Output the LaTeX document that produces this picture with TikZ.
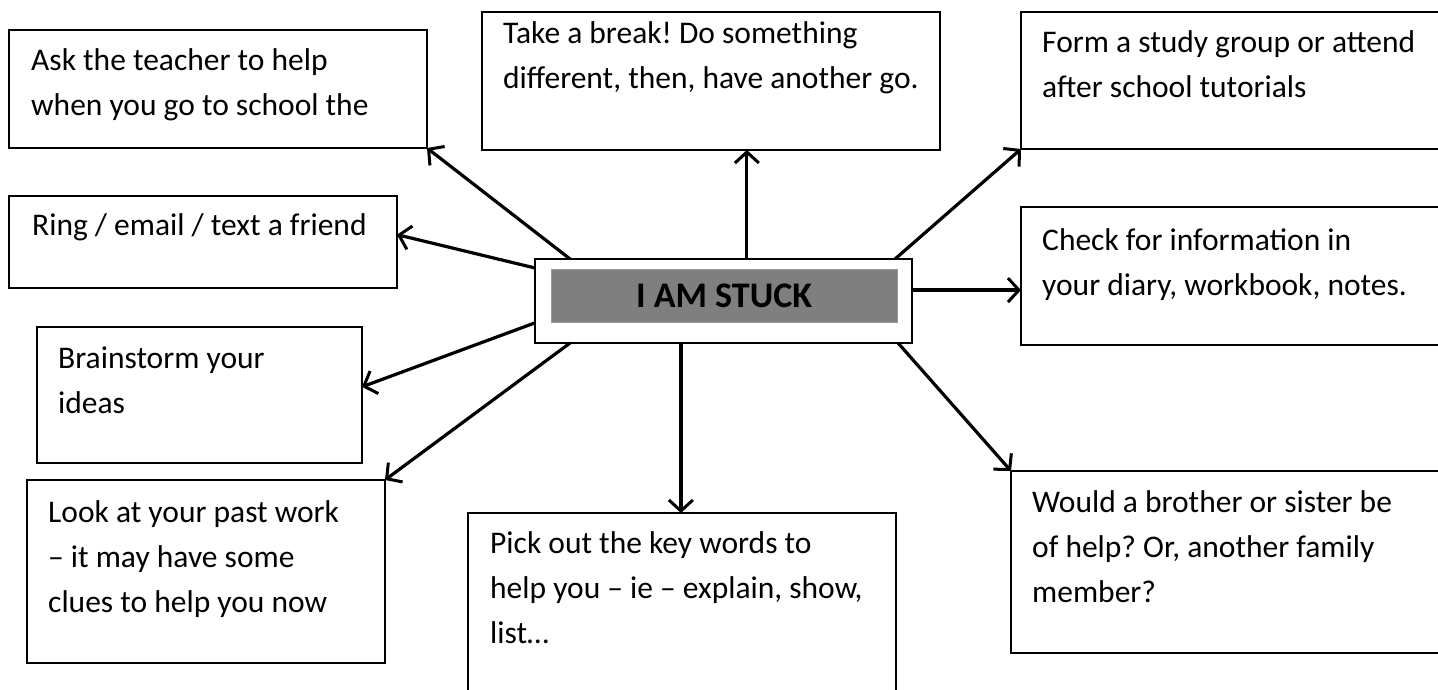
\documentclass[tikz,border=0pt]{standalone}
\usepackage{fontspec}
\setmainfont{Carlito}
\usetikzlibrary{arrows.meta,calc}
\definecolor{stuckgray}{HTML}{7F7F7F}
\definecolor{stuckedge}{HTML}{9A9A9A}
\begin{document}
\frenchspacing
\begin{tikzpicture}[x=1pt,y=-1pt,
  box/.style={draw=black,line width=1.6pt,inner sep=0pt,outer sep=0pt,anchor=north west},
  txt/.style={font=\fontsize{31.5}{45}\selectfont,text width=440pt,inner sep=0pt,anchor=base west,
    execute at begin node={\spaceskip=7.1pt\xspaceskip=7.1pt\relax}},
  arr/.style={line width=3.2pt,-{Straight Barb[length=11pt,width=24pt,line width=3pt]}}]
\useasboundingbox (0,0) rectangle (1438,690);
% boxes
\node[box,minimum width=418,minimum height=118] (ask) at (9,30) {};
\node[box,minimum width=388,minimum height=92] (ring) at (9,196) {};
\node[box,minimum width=458,minimum height=138] (brk) at (482,12) {};
\node[box,minimum width=430,minimum height=137] (form) at (1021,12) {};
\node[box,minimum width=430,minimum height=138] (check) at (1021,207) {};
\node[box,minimum width=325,minimum height=136] (brain) at (37,327) {};
\node[box,minimum width=358,minimum height=183] (look) at (27,480) {};
\node[box,minimum width=428,minimum height=200] (pick) at (468,513) {};
\node[box,minimum width=440,minimum height=182] (would) at (1011,471) {};
% texts
\node[txt] (askt) at ($(ask.north west)+(22,41)$) {Ask the teacher to help\\when you go to school the};
\node[txt] (ringt) at ($(ring.north west)+(23,39)$) {Ring / email / text a friend};
\node[txt] (brkt) at ($(brk.north west)+(21,32)$) {Take a break! Do something\\different, then, have another go.};
\node[txt] (formt) at ($(form.north west)+(21,41)$) {Form a study group or attend\\after school tutorials};
\node[txt] (checkt) at ($(check.north west)+(21,43)$) {Check for information in\\your diary, workbook, notes.};
\node[txt] (braint) at ($(brain.north west)+(21,41)$) {Brainstorm your\\ideas};
\node[txt] (lookt) at ($(look.north west)+(21,42)$) {Look at your past work\\– it may have some\\clues to help you now};
\node[txt] (pickt) at ($(pick.north west)+(22,40)$) {Pick out the key words to\\help you – ie – explain, show,\\list…};
\node[txt] (wouldt) at ($(would.north west)+(21,41)$) {Would a brother or sister be\\of help? Or, another family\\member?};
% centre
\node[box,fill=white,minimum width=377,minimum height=84,anchor=center] (stuck) at (723.5,301) {};
\node[fill=stuckgray,draw=stuckedge,line width=0.8pt,minimum width=346,minimum height=53,inner sep=0pt,
  font=\fontsize{36}{40}\selectfont\bfseries] (stuckin) at (724,295.5) {I AM STUCK};
% arrows
\draw[arr] ($(stuck.north west)!0.093!(stuck.north east)$) -- (ask.south east);
\draw[arr] ($(stuck.north west)!0.107!(stuck.south west)$) -- ($(ring.north east)!0.42!(ring.south east)$);
\draw[arr] ($(stuck.north west)!0.562!(stuck.north east)$) coordinate (bs) -- (bs |- brk.south);
\draw[arr] ($(stuck.north west)!0.955!(stuck.north east)$) -- (form.south west);
\draw[arr] ($(stuck.north east)!0.37!(stuck.south east)$) coordinate (cs) -- (cs -| check.west);
\draw[arr] ($(stuck.north west)!0.76!(stuck.south west)$) -- ($(brain.north east)!0.44!(brain.south east)$);
\draw[arr] ($(stuck.south west)!0.093!(stuck.south east)$) -- (look.north east);
\draw[arr] ($(stuck.south west)!0.387!(stuck.south east)$) coordinate (ps) -- (ps |- pick.north);
\draw[arr] ($(stuck.south west)!0.963!(stuck.south east)$) -- (would.north west);
\end{tikzpicture}
\end{document}
